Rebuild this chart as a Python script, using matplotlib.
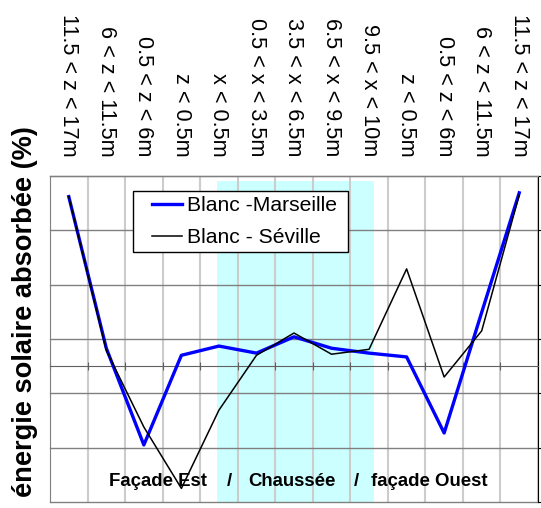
import numpy as np
import matplotlib
matplotlib.use("Agg")
import matplotlib.pyplot as plt
from matplotlib.lines import Line2D
from matplotlib.legend_handler import HandlerLine2D

plt.rcParams['font.family'] = ['Liberation Sans', 'DejaVu Sans']

# zones along the section (east facade -> road -> west facade)
zones = ["11.5 < z < 17m", "6 < z < 11.5m", "0.5 < z < 6m", "z < 0.5m",
         "x < 0.5m", "0.5 < x < 3.5m", "3.5 < x < 6.5m", "6.5 < x < 9.5m",
         "9.5 < x < 10m", "z < 0.5m", "0.5 < z < 6m", "6 < z < 11.5m",
         "11.5 < z < 17m"]

# absorbed solar energy (y labels not visible)
marseille = [31.2, 3.3, -14.5, 2.0, 3.7, 2.4, 5.4, 3.3, 2.4, 1.7, -12.3, 9.9, 31.9]
seville = [31.2, 2.9, -11.2, -22.5, -8.1, 2.0, 6.1, 2.2, 3.1, 17.9, -2.0, 6.5, 31.5]

W, H = 541, 508
fig = plt.figure(figsize=(W / 100, H / 100), dpi=100)
ax = fig.add_axes([50 / W, 6 / H, 488 / W, 326 / H])

x = np.arange(len(zones))
ax.set_xlim(-0.5, len(zones) - 0.5)
ax.set_ylim(-25, 35)

# road area (chaussée)
ax.axvspan(3.95, 8.13, ymin=0, ymax=(34.05 + 25) / 60, color='#ccffff', lw=0, zorder=0)

# gridlines
for xb in np.arange(-0.5, len(zones), 1):
    ax.axvline(xb, color='#cccccc', lw=1.5, zorder=1)
for yv in np.arange(-25, 36, 10):
    ax.axhline(yv, color='#808080', lw=1, zorder=1, clip_on=False)

ax.plot(x, marseille, color='#0000ff', lw=2.4, label='Blanc -Marseille ', zorder=3)
ax.plot(x, seville, color='black', lw=1.1, label='Blanc - Séville', zorder=4)

# category axis crossing at zero
ax.spines['bottom'].set_position(('data', 0))
ax.spines['bottom'].set_color('#606060')
ax.set_xticks(np.arange(-0.5, len(zones), 1))
ax.tick_params(axis='x', direction='inout', length=6, color='#606060', labelbottom=False)

# value axis on the right, labels cut off
ax.yaxis.tick_right()
ax.set_yticks(np.arange(-25, 36, 10))
ax.tick_params(axis='y', direction='out', length=4, color='black', labelright=False)
ax.spines['right'].set_color('black')
ax.spines['left'].set_color('#808080')
ax.spines['top'].set_color('#808080')

# zone labels on top
secax = ax.secondary_xaxis('top')
secax.set_xticks(x, labels=zones, rotation=-90, fontsize=15.6)
secax.tick_params(length=0, pad=14)
secax.spines['top'].set_color('#808080')

# y title, kept just inside the bottom edge
fig.text(25 / W, 1 - 312 / H, "énergie solaire absorbée (%)", rotation=90,
         fontsize=19.6, fontweight='bold', ha='center', va='center')

leg = ax.legend(loc='upper left', bbox_to_anchor=(133 / W, 1 - 191 / H),
                bbox_transform=fig.transFigure, borderaxespad=0, fontsize=15.2,
                fancybox=False, framealpha=1, edgecolor='black',
                handlelength=2.05, handletextpad=0.25, labelspacing=0.6,
                borderpad=0.25, handler_map={Line2D: HandlerLine2D(xpad=0.65)})
leg.get_frame().set_linewidth(1)

ty = 1 - 481 / H
fig.text(109 / W, ty, "Façade Est", fontsize=13.4, fontweight='bold', va='center')
fig.text(229 / W, ty, "/", fontsize=13.4, fontweight='bold', va='center', ha='center')
fig.text(248 / W, ty, "Chaussée", fontsize=13.4, fontweight='bold', va='center')
fig.text(356 / W, ty, "/", fontsize=13.4, fontweight='bold', va='center', ha='center')
fig.text(371 / W, ty, "façade Ouest", fontsize=13.4, fontweight='bold', va='center')

fig.savefig("out.png", dpi=100)
